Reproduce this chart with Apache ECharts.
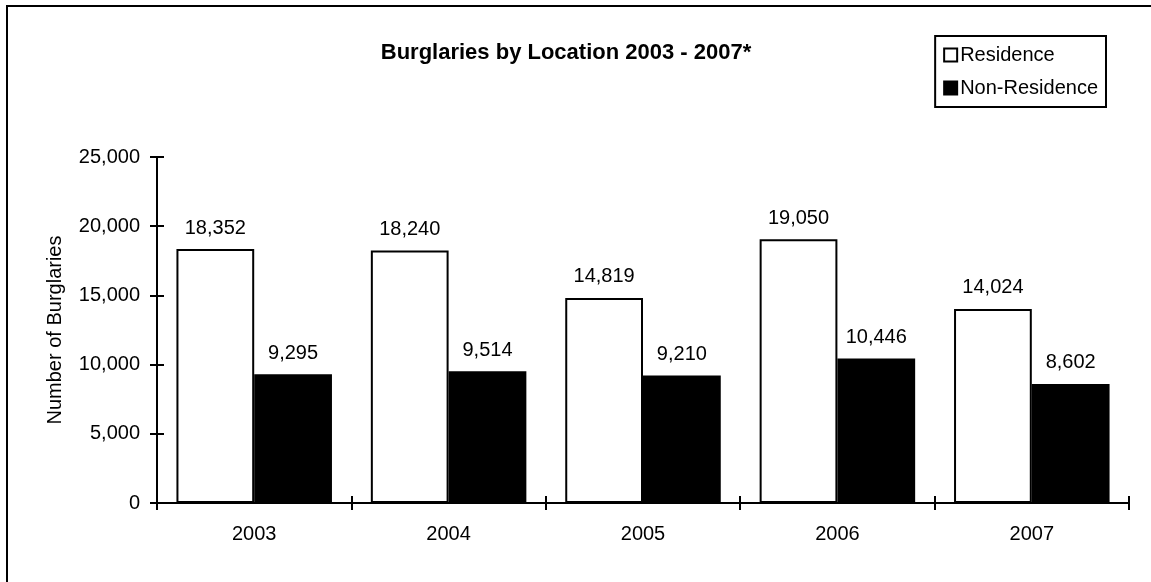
<!DOCTYPE html>
<html><head><meta charset="utf-8">
<script src="https://cdn.jsdelivr.net/npm/echarts@6/dist/echarts.min.js"></script>
<style>html,body{margin:0;padding:0;background:#fff}#c{width:1151px;height:582px}</style>
</head><body><div id="c"></div>
<script>
var categories = ['2003','2004','2005','2006','2007'];
var residence = [18352, 18240, 14819, 19050, 14024];
var nonResidence = [9295, 9514, 9210, 10446, 8602];
var yTicks = [0, 5000, 10000, 15000, 20000, 25000];

function fmt(v){ return String(v).replace(/\B(?=(\d{3})+(?!\d))/g, ','); }
var F = 'Liberation Sans, Arial, sans-serif';
var FS = 20;
var chart = echarts.init(document.getElementById('c'), null, {renderer:'canvas'});
var axisLine = {show:true, lineStyle:{color:'#000', width:2}};
chart.setOption({
  animation:false,
  backgroundColor:'#fff',
  title:{text:'Burglaries by Location 2003 - 2007*', left:566, top:42, textAlign:'center', padding:0,
    textStyle:{fontFamily:F, fontSize:22, fontWeight:'bold', color:'#000'}},
  legend:{right:45, top:36, orient:'vertical', icon:'rect', itemWidth:13, itemHeight:13, itemGap:13,
    padding:[9,8,9,8], borderColor:'#000', borderWidth:2,
    itemStyle:{borderColor:'#000', borderWidth:2},
    textStyle:{fontFamily:F, fontSize:FS, color:'#000', padding:[0,0,0,-2]},
    data:['Residence','Non-Residence']},
  graphic:[{type:'rect', shape:{x:7, y:6, width:1200, height:700}, style:{fill:'none', stroke:'#000', lineWidth:2}, z:-1}],
  grid:{left:157, right:22, top:157, bottom:79},
  xAxis:[
    {type:'category', data:categories, axisLine:axisLine,
      axisTick:{show:true, length:7, lineStyle:{color:'#000', width:2}},
      axisLabel:{fontFamily:F, fontSize:FS, color:'#000', margin:21}},
    {type:'category', data:categories, position:'bottom', axisLine:{show:false},
      axisTick:{show:true, inside:true, length:7, lineStyle:{color:'#000', width:2}},
      axisLabel:{show:false}}
  ],
  yAxis:[
    {type:'value', min:0, max:25000, interval:5000, axisLine:axisLine,
      axisTick:{show:true, length:7, lineStyle:{color:'#000', width:2}},
      splitLine:{show:false},
      axisLabel:{fontFamily:F, fontSize:FS, color:'#000', margin:17, formatter:function(v){return fmt(v);}},
      name:'Number of Burglaries', nameLocation:'middle', nameGap:92, nameRotate:90,
      nameTextStyle:{fontFamily:F, fontSize:FS, color:'#000'}},
    {type:'value', min:0, max:25000, interval:5000, position:'left', axisLine:{show:false},
      axisTick:{show:true, inside:true, length:7, lineStyle:{color:'#000', width:2}},
      splitLine:{show:false}, axisLabel:{show:false}}
  ],
  series:[
    {name:'Residence', type:'bar', data:residence, barGap:'0%', barCategoryGap:'20%',
      itemStyle:{color:'#fff', borderColor:'#000', borderWidth:2},
      label:{show:true, position:'top', distance:11, fontFamily:F, fontSize:FS, color:'#000', formatter:function(p){return fmt(p.value);}}},
    {name:'Non-Residence', type:'bar', data:nonResidence, barGap:'0%', barCategoryGap:'20%',
      itemStyle:{color:'#000', borderColor:'#000', borderWidth:2},
      label:{show:true, position:'top', distance:11, fontFamily:F, fontSize:FS, color:'#000', formatter:function(p){return fmt(p.value);}}}
  ]
});
</script></body></html>
